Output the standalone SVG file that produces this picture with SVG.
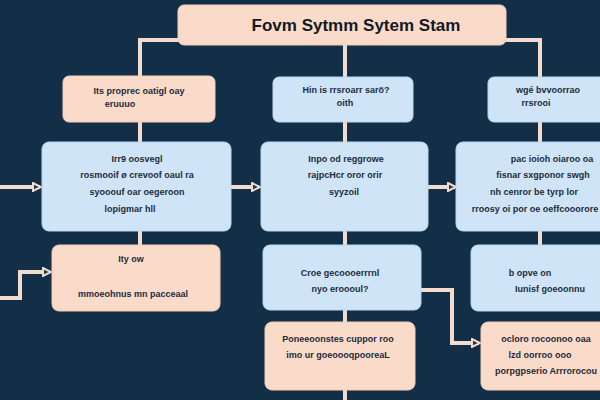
<svg xmlns="http://www.w3.org/2000/svg" width="600" height="400" viewBox="0 0 600 400">
<defs>
<marker id="ah" markerWidth="10" markerHeight="10" refX="8" refY="5" orient="auto" markerUnits="userSpaceOnUse">
<path d="M1,1 L9,5 L1,9 Z" fill="#1b3a55" stroke="#f3ddd0" stroke-width="2"/>
</marker>
</defs>
<style>
.bg{fill:#132f48}
.peach{fill:#fadbc9;stroke:#f3cdb7;stroke-width:1}
.blue{fill:#cfe5f7;stroke:#b9d6ee;stroke-width:1}
.c{fill:none;stroke:#f1dccf;stroke-width:4;stroke-linejoin:miter}
.t{font-family:"Liberation Sans",Arial,sans-serif;font-size:9px;font-weight:bold;fill:#1c2b3c;text-anchor:middle}
.title{font-family:"Liberation Sans",Arial,sans-serif;font-size:17px;font-weight:bold;fill:#111a24;text-anchor:middle}
</style>
<rect class="bg" x="0" y="0" width="600" height="400"/>
<g id="connectors">
<path class="c" d="M180,40 H140 V78"/>
<path class="c" d="M505,40 H540 V78"/>
<path class="c" d="M345,45 V78"/>
<path class="c" d="M140,122 V143"/>
<path class="c" d="M345,122 V143"/>
<path class="c" d="M540,122 V143"/>
<path class="c" d="M140,231 V246"/>
<path class="c" d="M345,231 V246"/>
<path class="c" d="M540,231 V246"/>
<path class="c" d="M345,310 V323"/>
<path class="c" d="M345,390 V400"/>
<path class="c" d="M0,187 H40" marker-end="url(#ah)"/>
<path class="c" d="M231,187 H259" marker-end="url(#ah)"/>
<path class="c" d="M428,187 H455" marker-end="url(#ah)"/>
<path class="c" d="M0,298 H20 V272 H50" marker-end="url(#ah)"/>
<path class="c" d="M421,290 H452 V343 H479" marker-end="url(#ah)"/>
</g>
<g id="title">
<rect class="peach" x="178" y="5" width="328" height="40" rx="6"/>
<text class="title" x="356" y="31">Fovm Sytmm Sytem Stam</text>
</g>
<g id="n1">
<rect class="peach" x="63" y="76" width="152" height="46" rx="6"/>
<text class="t" x="139" y="94">Its proprec oatigl oay</text>
<text class="t" x="120" y="107">eruuuo</text>
</g>
<g id="n2">
<rect class="blue" x="273" y="77" width="140" height="45" rx="6"/>
<text class="t" x="346" y="93">Hin is rrsroarr sarö?</text>
<text class="t" x="345" y="106">oith</text>
</g>
<g id="n3">
<rect class="blue" x="488" y="77" width="120" height="45" rx="6"/>
<text class="t" x="548" y="93">wgé bvvoorrao</text>
<text class="t" x="536" y="106">rrsrooi</text>
</g>
<g id="n4">
<rect class="blue" x="42" y="142" width="189" height="89" rx="7"/>
<text class="t" x="137" y="162">Irr9 oosvegl</text>
<text class="t" x="137" y="178">rosmooif ø crevoof oaul ra</text>
<text class="t" x="137" y="195">syooouf oar oegeroon</text>
<text class="t" x="130" y="212">lopigmar hll</text>
</g>
<g id="n5">
<rect class="blue" x="261" y="142" width="167" height="89" rx="7"/>
<text class="t" x="346" y="162">Inpo od reggrowe</text>
<text class="t" x="345" y="178">rajpcHcr oror orir</text>
<text class="t" x="344" y="195">syyzoil</text>
</g>
<g id="n6">
<rect class="blue" x="456" y="142" width="152" height="89" rx="7"/>
<text class="t" x="552" y="162">pac ioioh oiaroo oa</text>
<text class="t" x="543" y="178">fisnar sxgponor swgh</text>
<text class="t" x="534" y="195">nh cenror be tyrp lor</text>
<text class="t" x="535" y="212">rroosy oi por oe oeffcooorore</text>
</g>
<g id="n7">
<rect class="peach" x="52" y="245" width="168" height="66" rx="7"/>
<text class="t" x="131" y="262">Ity ow</text>
<text class="t" x="133" y="297">mmoeohnus mn pacceaal</text>
</g>
<g id="n8">
<rect class="blue" x="263" y="245" width="158" height="65" rx="7"/>
<text class="t" x="340" y="276">Croe gecoooerrrnl</text>
<text class="t" x="340" y="292">nyo eroooul?</text>
</g>
<g id="n9">
<rect class="blue" x="471" y="245" width="137" height="66" rx="7"/>
<text class="t" x="530" y="276">b opve on</text>
<text class="t" x="550" y="292">Iunisf goeoonnu</text>
</g>
<g id="n10">
<rect class="peach" x="265" y="322" width="150" height="68" rx="7"/>
<text class="t" x="338" y="342">Poneeoonstes cuppor roo</text>
<text class="t" x="338" y="358">imo ur goeoooqpooreaL</text>
</g>
<g id="n11">
<rect class="peach" x="481" y="322" width="127" height="68" rx="7"/>
<text class="t" x="546" y="342">ocloro rocoonoo oaa</text>
<text class="t" x="540" y="358">lzd oorroo ooo</text>
<text class="t" x="546" y="374">porpgpserio Arrrorocou</text>
</g>
</svg>
